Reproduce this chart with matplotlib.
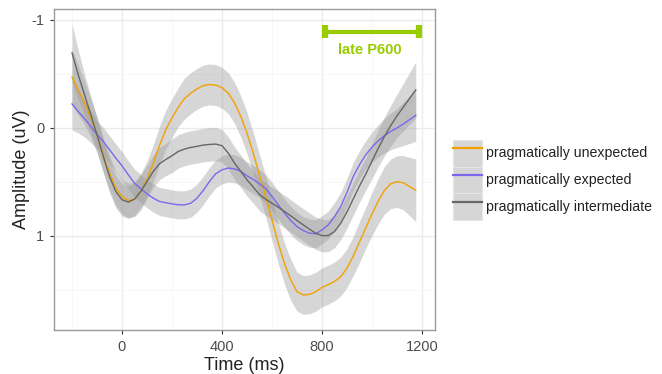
import numpy as np
import matplotlib
matplotlib.use("Agg")
import matplotlib.pyplot as plt
from matplotlib.patches import Patch
from matplotlib.lines import Line2D
from matplotlib.legend_handler import HandlerTuple

plt.rcParams["font.family"] = ["Liberation Sans", "DejaVu Sans"]
plt.rcParams["axes.unicode_minus"] = False

# ---- data ----
time_ms = list(range(-200, 1176, 25))

unexpected = [-0.47, -0.35, -0.23, -0.09, 0.065, 0.25, 0.42, 0.56,
              0.64, 0.675, 0.665, 0.595, 0.48, 0.33, 0.165, 0.02,
              -0.09, -0.19, -0.27, -0.32, -0.36, -0.39, -0.40, -0.395,
              -0.37, -0.32, -0.23, -0.105, 0.05, 0.235, 0.44, 0.64,
              0.855, 1.07, 1.26, 1.41, 1.52, 1.55, 1.545, 1.52,
              1.48, 1.455, 1.425, 1.38, 1.30, 1.19, 1.06, 0.93,
              0.80, 0.68, 0.58, 0.52, 0.50, 0.51, 0.545, 0.58]
expected = [-0.22, -0.15, -0.084, -0.012, 0.065, 0.127, 0.204, 0.281,
            0.353, 0.436, 0.514, 0.566, 0.613, 0.653, 0.684, 0.695,
            0.706, 0.715, 0.715, 0.70, 0.653, 0.582, 0.498, 0.427,
            0.39, 0.374, 0.381, 0.405, 0.446, 0.48, 0.52, 0.565,
            0.637, 0.715, 0.792, 0.86, 0.916, 0.953, 0.978, 0.984,
            0.947, 0.901, 0.824, 0.73, 0.60, 0.452, 0.344, 0.251,
            0.18, 0.121, 0.074, 0.034, 0.003, -0.034, -0.074, -0.114]
intermediate = [-0.693, -0.49, -0.306, -0.121, 0.065, 0.266, 0.452, 0.591,
                0.668, 0.69, 0.662, 0.591, 0.498, 0.405, 0.334, 0.295,
                0.26, 0.22, 0.198, 0.183, 0.173, 0.161, 0.155, 0.152,
                0.167, 0.235, 0.328, 0.405, 0.483, 0.55, 0.62, 0.663,
                0.70, 0.737, 0.777, 0.817, 0.86, 0.901, 0.941, 0.978,
                1.0, 1.0, 0.963, 0.885, 0.78, 0.66, 0.54, 0.43,
                0.31, 0.19, 0.08, -0.02, -0.11, -0.19, -0.27, -0.35]

# confidence band half-widths
unexpected_ci = [0.26, 0.23, 0.20, 0.18, 0.17, 0.16, 0.16, 0.16,
                 0.16, 0.16, 0.16, 0.17, 0.17, 0.17, 0.18, 0.18,
                 0.18, 0.18, 0.19, 0.19, 0.19, 0.19, 0.19, 0.19,
                 0.19, 0.19, 0.19, 0.19, 0.19, 0.19, 0.19, 0.19,
                 0.19, 0.19, 0.19, 0.19, 0.18, 0.18, 0.18, 0.18,
                 0.18, 0.18, 0.18, 0.18, 0.18, 0.18, 0.19, 0.19,
                 0.20, 0.21, 0.22, 0.23, 0.24, 0.25, 0.27, 0.29]
expected_ci = [0.24, 0.20, 0.17, 0.15, 0.13, 0.13, 0.13, 0.13,
               0.13, 0.13, 0.13, 0.13, 0.13, 0.13, 0.13, 0.13,
               0.13, 0.13, 0.13, 0.13, 0.13, 0.13, 0.13, 0.13,
               0.13, 0.13, 0.13, 0.13, 0.13, 0.13, 0.13, 0.13,
               0.13, 0.13, 0.13, 0.13, 0.13, 0.13, 0.13, 0.13,
               0.13, 0.13, 0.13, 0.13, 0.13, 0.13, 0.13, 0.13,
               0.14, 0.15, 0.16, 0.17, 0.18, 0.20, 0.22, 0.24]
intermediate_ci = [0.27, 0.23, 0.19, 0.17, 0.15, 0.15, 0.15, 0.15,
                   0.15, 0.15, 0.15, 0.15, 0.15, 0.15, 0.15, 0.15,
                   0.155, 0.155, 0.155, 0.155, 0.155, 0.155, 0.155, 0.155,
                   0.15, 0.15, 0.15, 0.15, 0.15, 0.15, 0.15, 0.15,
                   0.15, 0.15, 0.15, 0.15, 0.15, 0.15, 0.15, 0.15,
                   0.15, 0.15, 0.15, 0.15, 0.15, 0.15, 0.15, 0.15,
                   0.16, 0.17, 0.18, 0.19, 0.20, 0.22, 0.24, 0.26]

labels = ["pragmatically unexpected", "pragmatically expected", "pragmatically intermediate"]
colors = ["#F2A100", "#7B68EE", "#666666"]
window = [805, 1195]  # late P600 window (ms)

# ---- figure ----
fig = plt.figure(figsize=(6.62, 3.74), dpi=100)
ax = fig.add_axes([54 / 662, 1 - 330 / 374, 381 / 662, 321 / 374])

t = np.array(time_ms)
series = [(unexpected, unexpected_ci), (expected, expected_ci), (intermediate, intermediate_ci)]
for (y, ci), col in zip(series, colors):
    y = np.array(y); ci = np.array(ci)
    ax.fill_between(t, y - ci, y + ci, color="#999999", alpha=0.4, lw=0, zorder=2)
    ax.plot(t, y, color=col, lw=1.0, zorder=3)

# late P600 bar
GREEN = "#99CC00"
ax.plot(window, [-0.89, -0.89], color=GREEN, lw=3, solid_capstyle="butt", zorder=4)
for xv in [window[0] + 8, window[1] - 8]:
    ax.plot([xv, xv], [-0.83, -0.95], color=GREEN, lw=4.5, solid_capstyle="butt", zorder=4)
ax.text(992, -0.72, "late P600", color=GREEN, fontsize=10.5, fontweight="bold",
        ha="center", va="center", zorder=4)

ax.set_xlim(-272, 1252)
ax.set_ylim(1.875, -1.10)
ax.set_xticks([0, 400, 800, 1200])
ax.set_xticks([-200, 200, 600, 1000], minor=True)
ax.set_yticks([-1, 0, 1])
ax.set_yticks([-0.5, 0.5, 1.5], minor=True)
ax.grid(which="major", color="#EBEBEB", lw=1.0, zorder=0)
ax.grid(which="minor", color="#F5F5F5", lw=0.6, zorder=0)
ax.set_axisbelow(True)
ax.tick_params(which="major", direction="out", length=3, width=0.8, color="#333333",
               labelsize=10.5, labelcolor="#4D4D4D", pad=4)
ax.tick_params(which="minor", length=0)
for s in ax.spines.values():
    s.set_color("#9A9A9A")
    s.set_linewidth(1.0)

ax.set_xlabel("Time (ms)", fontsize=13, color="#222222", labelpad=2)
ax.set_ylabel("Amplitude (uV)", fontsize=13, color="#222222", labelpad=1)

handles = [(Patch(facecolor="#D6D6D6", edgecolor="#E6E6E6", lw=0.8),
            Line2D([], [], color=c, lw=1.6)) for c in colors]
leg = ax.legend(handles, labels, handler_map={tuple: HandlerTuple(ndivide=1, pad=0)},
                loc="center left", bbox_to_anchor=(453 / 662, 1 - 180 / 374),
                bbox_transform=fig.transFigure, frameon=False, fontsize=10.2,
                handlelength=2.08, handleheight=2.55, labelspacing=0.0,
                handletextpad=0.25, borderpad=0, borderaxespad=0)
for txt in leg.get_texts():
    txt.set_color("#222222")

fig.savefig("out.png", dpi=100, facecolor="white")
